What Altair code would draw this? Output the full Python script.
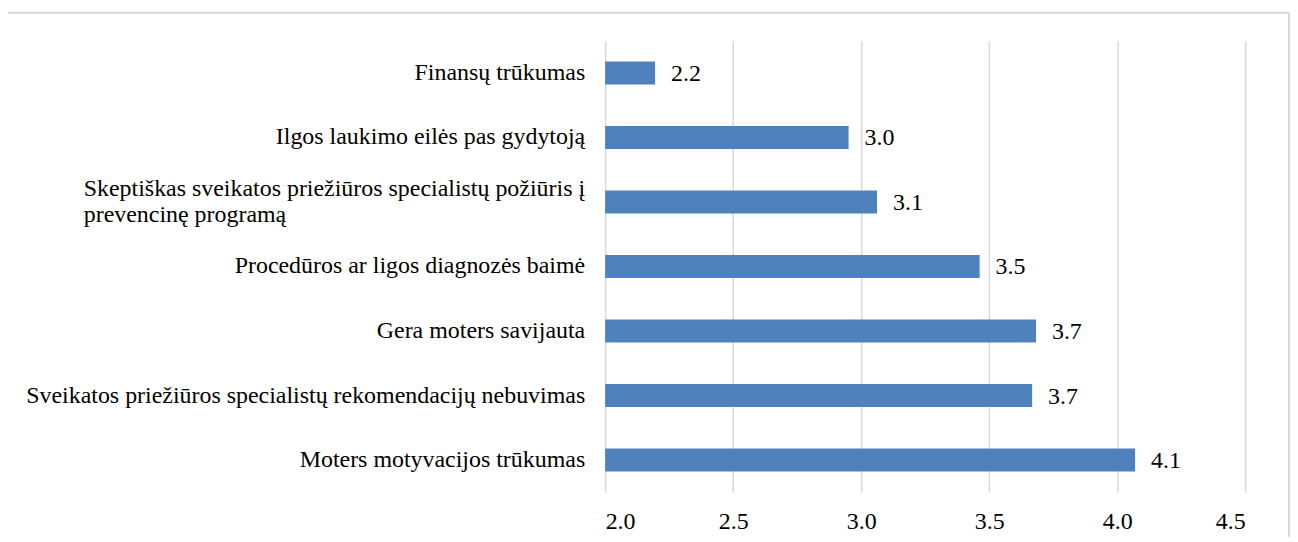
import altair as alt
import pandas as pd

categories = [
    "Finansų trūkumas",
    "Ilgos laukimo eilės pas gydytoją",
    "Skeptiškas sveikatos priežiūros specialistų požiūris į\nprevencinę programą",
    "Procedūros ar ligos diagnozės baimė",
    "Gera moters savijauta",
    "Sveikatos priežiūros specialistų rekomendacijų nebuvimas",
    "Moters motyvacijos trūkumas",
]
values = [2.195, 2.951, 3.062, 3.463, 3.683, 3.668, 4.07]
tick_values = [2.0, 2.5, 3.0, 3.5, 4.0, 4.5]

df = pd.DataFrame({"cat": categories, "value": values})
df["multi"] = df["cat"].str.contains("\n")

FONT = "'Liberation Serif', 'Times New Roman', 'DejaVu Serif', serif"
W, H = 642, 453

y_enc = alt.Y("cat:N", sort=categories, axis=None,
              scale=alt.Scale(paddingInner=0.645, paddingOuter=0.3225))

base = alt.Chart(df)

bars = base.mark_bar(color="#4F81BD").encode(
    x=alt.X("value:Q",
            scale=alt.Scale(domain=[2.0, 4.5], nice=False, zero=False),
            axis=alt.Axis(values=tick_values, format=".1f", title=None,
                          domain=False, ticks=False, labelPadding=17,
                          labelFont=FONT, labelFontSize=24, labelColor="#000000",
                          grid=True, gridColor="#D9D9D9", gridWidth=1.5)),
    x2=alt.datum(2.0),
    y=y_enc,
)

vals = base.mark_text(align="left", baseline="middle", dx=16, dy=1, font=FONT,
                      fontSize=24, color="#000000").encode(
    x="value:Q",
    y=y_enc,
    text=alt.Text("value:Q", format=".1f"),
)

cat_single = base.transform_filter("!datum.multi").mark_text(
    align="right", baseline="middle", font=FONT, fontSize=24, color="#000000"
).encode(x=alt.value(-20), y=y_enc, text="cat:N")

cat_multi = base.transform_filter("datum.multi").mark_text(
    align="left", baseline="middle", font=FONT, fontSize=24, color="#000000",
    lineBreak="\n", lineHeight=26, dy=-13
).encode(x=alt.value(-523), y=y_enc, text="cat:N")

frame_df = pd.DataFrame({"k": [0]})
frame = alt.Chart(frame_df)
left_b = frame.mark_rule(color="#D9D9D9", strokeWidth=2).encode(
    x=alt.value(-600), y=alt.value(-28), y2=alt.value(H + 60))
top_b = frame.mark_rule(color="#D9D9D9", strokeWidth=2).encode(
    x=alt.value(-600), x2=alt.value(686), y=alt.value(-28))
right_b = frame.mark_rule(color="#D9D9D9", strokeWidth=2).encode(
    x=alt.value(686), y=alt.value(-28), y2=alt.value(H + 60))

chart = alt.layer(bars, vals, cat_single, cat_multi, left_b, top_b, right_b).properties(
    width=W, height=H,
    autosize="none",
    padding={"left": 599, "top": 32, "right": 45, "bottom": 44},
).configure_view(stroke=None)

chart.save("out.html", embed_options={"renderer": "svg", "actions": False})
